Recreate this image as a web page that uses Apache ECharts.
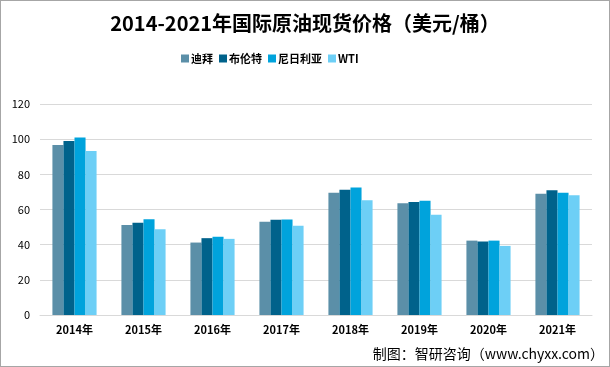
<!DOCTYPE html>
<html><head><meta charset="utf-8">
<script src="https://cdn.jsdelivr.net/npm/echarts@6/dist/echarts.min.js"></script>
<style>html,body{margin:0;padding:0;background:#fff}#c{width:610px;height:367px;box-sizing:border-box;border:1px solid #a6a6a6}</style>
</head><body><div id="c"></div>
<script>
const categories = ['2014年','2015年','2016年','2017年','2018年','2019年','2020年','2021年'];
const dubai   = [96.7, 51.2, 41.2, 53.1, 69.5, 63.5, 42.3, 69.0];
const brent   = [98.9, 52.4, 43.7, 54.2, 71.3, 64.2, 41.8, 70.9];
const nigeria = [100.9, 54.4, 44.5, 54.3, 72.5, 65.0, 42.3, 69.5];
const wti     = [93.3, 48.7, 43.3, 50.8, 65.2, 57.0, 39.3, 68.1];
const yTicks = [0, 20, 40, 60, 80, 100, 120];
const FONT = '"Noto Sans CJK SC", sans-serif';
const chart = echarts.init(document.getElementById('c'));
const mk = (name, data, color) => ({name, type:'bar', data, barGap:'0%', barCategoryGap:'36%', itemStyle:{color}});
chart.setOption({
  animation:false,
  title:{text:'2014-2021年国际原油现货价格（美元/桶）', left:'center', top:7,
    textStyle:{fontFamily:FONT, fontSize:20, fontWeight:'bold', color:'#000'}},
  legend:{top:47, left:175, itemWidth:8, itemHeight:8, itemGap:6, icon:'rect',
    textStyle:{fontFamily:FONT, fontSize:11, fontWeight:'bold', color:'#000', padding:[0,0,0,-3]}},
  grid:{left:39, right:17, top:103, bottom:51, containLabel:false},
  xAxis:{type:'category', data:categories,
    axisLine:{lineStyle:{color:'#d9d9d9'}}, axisTick:{show:false},
    axisLabel:{fontFamily:FONT, fontSize:11, fontWeight:'bold', color:'#000', margin:9}},
  yAxis:{type:'value', min:yTicks[0], max:yTicks[yTicks.length-1], interval:20,
    axisLine:{show:false}, axisTick:{show:false},
    splitLine:{lineStyle:{color:'#d9d9d9'}},
    axisLabel:{fontFamily:FONT, fontSize:11, color:'#000', margin:10}},
  graphic:[{type:'text', right:5, bottom:5, style:{text:'制图：智研咨询（www.chyxx.com）', fontFamily:FONT, fontSize:14, fill:'#000'}}],
  series:[mk('迪拜',dubai,'#5b8fa8'), mk('布伦特',brent,'#00628b'), mk('尼日利亚',nigeria,'#00a3dc'), mk('WTI',wti,'#6dcff6')]
});
</script></body></html>
